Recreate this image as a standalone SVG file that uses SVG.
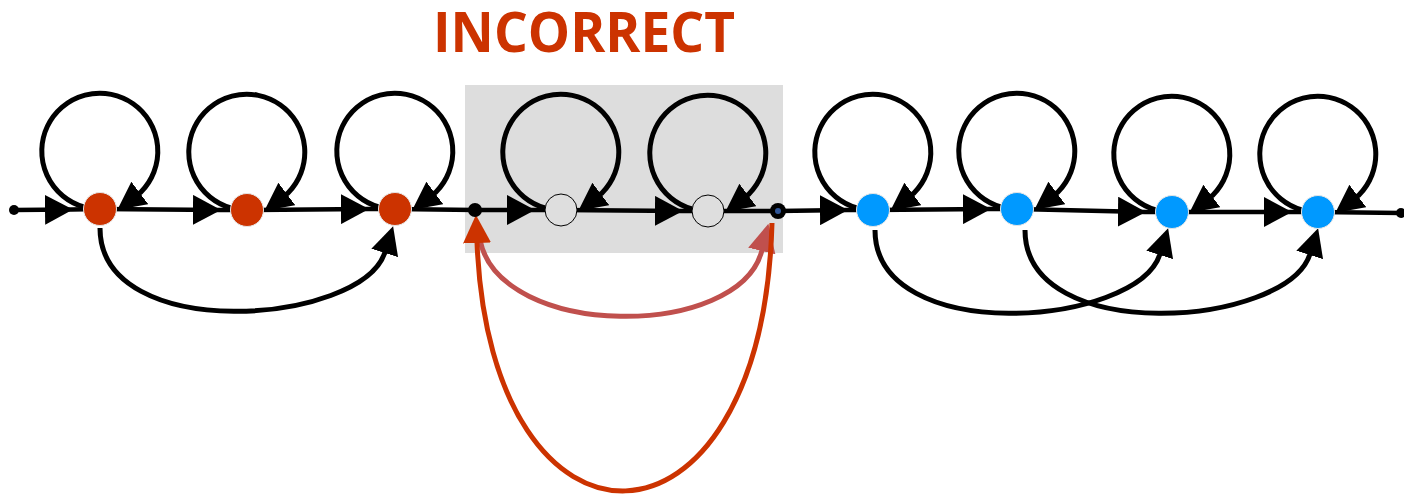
<svg xmlns="http://www.w3.org/2000/svg" width="1404" height="497" viewBox="0 0 1404 497">
<style>
.ln{fill:none;stroke:#000;stroke-width:4.5}
.lp{fill:none;stroke:#000;stroke-width:5}
.red{fill:#CC3300;stroke:#e6e6e6;stroke-width:1}
.blue{fill:#0099FF;stroke:#e6e6e6;stroke-width:1}
.gray{fill:#DEDEDE;stroke:#000;stroke-width:1}
.dot{fill:#000}
.title{font-family:"Open Sans","Liberation Sans",sans-serif;font-weight:700;font-size:56px;fill:#CC3300}
</style>
<defs>
<marker id="amid" markerUnits="userSpaceOnUse" viewBox="0 0 28 30" markerWidth="28" markerHeight="30" refX="27" refY="15" orient="auto"><path d="M0,0 L28,15 L0,30 Z" fill="#000"/></marker>
<marker id="arr" markerUnits="userSpaceOnUse" viewBox="0 0 28 28" markerWidth="28" markerHeight="28" refX="1" refY="14" orient="auto"><path d="M0,0 L28,14 L0,28 Z" fill="#000"/></marker>
<marker id="arrL" markerUnits="userSpaceOnUse" viewBox="0 0 28 28" markerWidth="28" markerHeight="28" refX="1" refY="14" orient="auto"><path d="M0,0 L28,14 L0,28 Z" fill="#C0504D"/></marker>
<marker id="arrD" markerUnits="userSpaceOnUse" viewBox="0 0 28 28" markerWidth="28" markerHeight="28" refX="1" refY="14" orient="auto"><path d="M0,0 L28,14 L0,28 Z" fill="#CC3300"/></marker>
</defs>
<rect x="465" y="85" width="318" height="168" fill="#DDDDDD"/>
<text class="title" x="433" y="52" textLength="302" lengthAdjust="spacingAndGlyphs">INCORRECT</text>
<g id="connectors">
<path class="ln" d="M14 210 L72 209.5 L100 209" marker-mid="url(#amid)"/>
<path class="ln" d="M100 209 L220 210 L247 210" marker-mid="url(#amid)"/>
<path class="ln" d="M247 210 L368 209 L395 209" marker-mid="url(#amid)"/>
<path class="ln" d="M395 209 L475 210"/>
<path class="ln" d="M475 210 L534 210 L561 210" marker-mid="url(#amid)"/>
<path class="ln" d="M561 210 L682 211 L708 211" marker-mid="url(#amid)"/>
<path class="ln" d="M708 211 L778 211"/>
<path class="ln" d="M778 211 L847 210 L873 210" marker-mid="url(#amid)"/>
<path class="ln" d="M873 210 L990 209 L1017 209" marker-mid="url(#amid)"/>
<path class="ln" d="M1017 209 L1145 212 L1172 212" marker-mid="url(#amid)"/>
<path class="ln" d="M1172 212 L1291 212 L1318 212" marker-mid="url(#amid)"/>
<path class="ln" d="M1318 212 L1401 213"/>
<path class="lp" d="M84 207 A58 58 0 1 1 141 192 L139 193.5" marker-end="url(#arr)"/>
<path class="lp" d="M231 208 A58 58 0 1 1 288 193 L286 194.5" marker-end="url(#arr)"/>
<path class="lp" d="M379 207 A58 58 0 1 1 436 192 L434 193.5" marker-end="url(#arr)"/>
<path class="lp" d="M545 208 A58 58 0 1 1 602 193 L600 194.5" marker-end="url(#arr)"/>
<path class="lp" d="M692 209 A58 58 0 1 1 749 194 L747 195.5" marker-end="url(#arr)"/>
<path class="lp" d="M857 208 A58 58 0 1 1 914 193 L912 194.5" marker-end="url(#arr)"/>
<path class="lp" d="M1001 207 A58 58 0 1 1 1058 192 L1056 193.5" marker-end="url(#arr)"/>
<path class="lp" d="M1156 210 A58 58 0 1 1 1213 195 L1211 196.5" marker-end="url(#arr)"/>
<path class="lp" d="M1302 210 A58 58 0 1 1 1359 195 L1357 196.5" marker-end="url(#arr)"/>
<path class="lp" d="M100 228 C100 345 362 325 385 252" marker-end="url(#arr)"/>
<path class="lp" d="M875 230 C875 347 1137 327 1160 254" marker-end="url(#arr)"/>
<path class="lp" d="M1025 230 C1025 347 1287 327 1310 254" marker-end="url(#arr)"/>
<path d="M480 240 C500 340 740 340 762 250" fill="none" stroke="#C0504D" stroke-width="5" marker-end="url(#arrL)"/>
<path d="M772 223 C762 577 490 577 477 242" fill="none" stroke="#CC3300" stroke-width="5" marker-end="url(#arrD)"/>
</g>
<g id="start"><circle class="dot" cx="14" cy="210" r="5"/></g>
<g id="r1"><circle class="red" cx="100" cy="209" r="16.5"/></g>
<g id="r2"><circle class="red" cx="247" cy="210" r="16.5"/></g>
<g id="r3"><circle class="red" cx="395" cy="209" r="16.5"/></g>
<g id="d1"><circle class="dot" cx="475" cy="210" r="7"/></g>
<g id="g1"><circle class="gray" cx="561" cy="210" r="16"/></g>
<g id="g2"><circle class="gray" cx="708" cy="211" r="16"/></g>
<g id="d2"><circle class="dot" cx="778" cy="211" r="8"/><circle cx="778" cy="211" r="3" fill="#2F5597"/></g>
<g id="b1"><circle class="blue" cx="873" cy="210" r="16.5"/></g>
<g id="b2"><circle class="blue" cx="1017" cy="209" r="16.5"/></g>
<g id="b3"><circle class="blue" cx="1172" cy="212" r="16.5"/></g>
<g id="b4"><circle class="blue" cx="1318" cy="212" r="16.5"/></g>
<g id="end"><circle class="dot" cx="1401" cy="213" r="5"/></g>
</svg>
